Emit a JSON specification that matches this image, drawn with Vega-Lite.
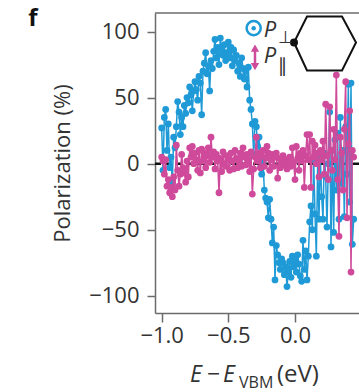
{
  "$schema": "https://vega.github.io/schema/vega-lite/v6.json",
  "width": 204,
  "height": 300,
  "autosize": "none",
  "padding": {"left": 155, "top": 13, "right": 0, "bottom": 79},
  "background": "white",
  "config": {
    "view": {"stroke": null},
    "font": "Open Sans",
    "axis": {"grid": false, "domainColor": "#6b6b6b", "domainWidth": 1.5, "tickColor": "#6b6b6b", "tickWidth": 1.5, "labelFont": "Open Sans", "labelFontSize": 22, "labelColor": "#333", "titleFont": "Open Sans", "titleFontSize": 22, "titleFontWeight": "normal", "titleColor": "#333"},
    "axisX": {"tickSize": 9, "labelPadding": 3},
    "axisY": {"tickSize": 8, "labelPadding": 8, "titlePadding": 14}
  },
  "datasets": {
    "one": [{}],
    "pol": [
      {"E":-1.00,"perp":27,"par":5},{"E":-0.99,"perp":-5,"par":2},{"E":-0.98,"perp":35,"par":-8},{"E":-0.97,"perp":41,"par":3},{"E":-0.96,"perp":10,"par":-17},
      {"E":-0.95,"perp":30,"par":-12},{"E":-0.94,"perp":-3,"par":-22},{"E":-0.93,"perp":5,"par":-18},{"E":-0.92,"perp":-14,"par":-25},{"E":-0.91,"perp":20,"par":-10},
      {"E":-0.90,"perp":12,"par":-20},{"E":-0.89,"perp":28,"par":14},{"E":-0.88,"perp":47,"par":-5},{"E":-0.87,"perp":39,"par":-17},{"E":-0.86,"perp":22,"par":-8},
      {"E":-0.85,"perp":35,"par":7},{"E":-0.84,"perp":28,"par":-3},{"E":-0.83,"perp":44,"par":-7},{"E":-0.82,"perp":38,"par":-14},{"E":-0.81,"perp":50,"par":2},
      {"E":-0.80,"perp":46,"par":-10},{"E":-0.79,"perp":58,"par":12},{"E":-0.78,"perp":52,"par":5},{"E":-0.77,"perp":40,"par":13},{"E":-0.76,"perp":55,"par":0},
      {"E":-0.75,"perp":62,"par":8},{"E":-0.74,"perp":56,"par":3},{"E":-0.73,"perp":48,"par":-5},{"E":-0.72,"perp":66,"par":10},{"E":-0.71,"perp":61,"par":-7},
      {"E":-0.70,"perp":37,"par":11},{"E":-0.69,"perp":70,"par":2},{"E":-0.68,"perp":76,"par":8},{"E":-0.67,"perp":84,"par":-3},{"E":-0.66,"perp":68,"par":6},
      {"E":-0.65,"perp":74,"par":12},{"E":-0.64,"perp":55,"par":1},{"E":-0.63,"perp":78,"par":20},{"E":-0.62,"perp":72,"par":5},{"E":-0.61,"perp":85,"par":9},
      {"E":-0.60,"perp":94,"par":-4},{"E":-0.59,"perp":80,"par":7},{"E":-0.58,"perp":88,"par":2},{"E":-0.57,"perp":75,"par":-22},{"E":-0.56,"perp":95,"par":4},
      {"E":-0.55,"perp":86,"par":-6},{"E":-0.54,"perp":82,"par":9},{"E":-0.53,"perp":90,"par":0},{"E":-0.52,"perp":78,"par":-2},{"E":-0.51,"perp":84,"par":6},
      {"E":-0.50,"perp":92,"par":3},{"E":-0.49,"perp":80,"par":-5},{"E":-0.48,"perp":88,"par":8},{"E":-0.47,"perp":74,"par":2},{"E":-0.46,"perp":86,"par":-4},
      {"E":-0.45,"perp":78,"par":10},{"E":-0.44,"perp":82,"par":4},{"E":-0.43,"perp":70,"par":-3},{"E":-0.42,"perp":76,"par":2},{"E":-0.41,"perp":66,"par":8},
      {"E":-0.40,"perp":80,"par":-2},{"E":-0.39,"perp":72,"par":12},{"E":-0.38,"perp":64,"par":5},{"E":-0.37,"perp":70,"par":-1},{"E":-0.36,"perp":58,"par":7},
      {"E":-0.35,"perp":73,"par":3},{"E":-0.34,"perp":48,"par":-6},{"E":-0.33,"perp":41,"par":9},{"E":-0.32,"perp":30,"par":-23},{"E":-0.31,"perp":7,"par":-4},
      {"E":-0.30,"perp":32,"par":5},{"E":-0.29,"perp":28,"par":20},{"E":-0.28,"perp":13,"par":2},{"E":-0.27,"perp":20,"par":8},{"E":-0.26,"perp":5,"par":-3},
      {"E":-0.25,"perp":-8,"par":6},{"E":-0.24,"perp":2,"par":10},{"E":-0.23,"perp":-20,"par":-2},{"E":-0.22,"perp":-26,"par":4},{"E":-0.21,"perp":-29,"par":13},
      {"E":-0.20,"perp":-41,"par":8},{"E":-0.19,"perp":-27,"par":-5},{"E":-0.18,"perp":-42,"par":3},{"E":-0.17,"perp":-60,"par":7},{"E":-0.16,"perp":-48,"par":-2},
      {"E":-0.15,"perp":-88,"par":5},{"E":-0.14,"perp":-62,"par":8},{"E":-0.13,"perp":-69,"par":-11},{"E":-0.12,"perp":-75,"par":4},{"E":-0.11,"perp":-80,"par":-3},
      {"E":-0.10,"perp":-72,"par":2},{"E":-0.09,"perp":-75,"par":6},{"E":-0.08,"perp":-84,"par":-1},{"E":-0.07,"perp":-78,"par":3},{"E":-0.06,"perp":-93,"par":-4},
      {"E":-0.05,"perp":-82,"par":2},{"E":-0.04,"perp":-74,"par":5},{"E":-0.03,"perp":-86,"par":-2},{"E":-0.02,"perp":-70,"par":12},{"E":-0.01,"perp":-78,"par":1},
      {"E":0.00,"perp":-72,"par":-12},{"E":0.01,"perp":-82,"par":13},{"E":0.02,"perp":-69,"par":4},{"E":0.03,"perp":-76,"par":-5},{"E":0.04,"perp":-85,"par":8},
      {"E":0.05,"perp":-89,"par":2},{"E":0.06,"perp":-58,"par":10},{"E":0.07,"perp":-80,"par":-18},{"E":0.08,"perp":-66,"par":6},{"E":0.09,"perp":-88,"par":22},
      {"E":0.10,"perp":-70,"par":3},{"E":0.11,"perp":-44,"par":22},{"E":0.12,"perp":-32,"par":-18},{"E":0.13,"perp":-50,"par":17},{"E":0.14,"perp":3,"par":5},
      {"E":0.15,"perp":-38,"par":14},{"E":0.16,"perp":-70,"par":0},{"E":0.17,"perp":2,"par":8},{"E":0.18,"perp":-42,"par":-10},{"E":0.19,"perp":5,"par":10},
      {"E":0.20,"perp":-25,"par":3},{"E":0.21,"perp":-42,"par":17},{"E":0.22,"perp":8,"par":-8},{"E":0.23,"perp":-10,"par":45},{"E":0.24,"perp":-48,"par":6},
      {"E":0.25,"perp":0,"par":-12},{"E":0.26,"perp":39,"par":43},{"E":0.27,"perp":-63,"par":10},{"E":0.28,"perp":10,"par":-5},{"E":0.29,"perp":-52,"par":26},
      {"E":0.30,"perp":18,"par":3},{"E":0.31,"perp":-20,"par":67},{"E":0.32,"perp":23,"par":-12},{"E":0.33,"perp":-42,"par":-55},{"E":0.34,"perp":35,"par":20},
      {"E":0.35,"perp":-15,"par":8},{"E":0.36,"perp":10,"par":-20},{"E":0.37,"perp":-40,"par":26},{"E":0.38,"perp":28,"par":62},{"E":0.39,"perp":-8,"par":-41},
      {"E":0.40,"perp":60,"par":15},{"E":0.41,"perp":-29,"par":40},{"E":0.42,"perp":61,"par":-82},{"E":0.43,"perp":-61,"par":10},{"E":0.44,"perp":-42,"par":5}
    ],
    "hex": [
      {"hx":-0.0075,"hy":91.7},{"hx":0.09,"hy":111.4},{"hx":0.3525,"hy":111.4},{"hx":0.4575,"hy":91.7},{"hx":0.3525,"hy":70.5},{"hx":0.09,"hy":70.5},{"hx":-0.0075,"hy":91.7}
    ]
  },
  "layer": [
    {
      "data": {"name": "one"},
      "mark": {"type": "rule", "color": "#111", "strokeWidth": 2.5, "strokeDash": [7, 4]},
      "encoding": {"y": {"datum": 0, "type": "quantitative", "scale": {"domain": [-113, 114]}}}
    },
    {
      "data": {"name": "one"},
      "mark": {"type": "rule", "color": "#6b6b6b", "strokeWidth": 1.5},
      "encoding": {"y": {"datum": 114, "type": "quantitative"}}
    },
    {
      "data": {"name": "pol"},
      "mark": {"type": "line", "color": "#1f9ad7", "strokeWidth": 1.5},
      "encoding": {
        "x": {"field": "E", "type": "quantitative", "scale": {"domain": [-1.05, 0.48], "nice": false, "zero": false}, "axis": {"values": [-1, -0.5, 0], "format": ".1f", "title": null}},
        "y": {"field": "perp", "type": "quantitative", "scale": {"domain": [-113, 114], "nice": false}, "axis": {"values": [-100, -50, 0, 50, 100], "title": "Polarization (%)"}}
      }
    },
    {
      "data": {"name": "pol"},
      "mark": {"type": "point", "filled": true, "opacity": 1, "color": "#1f9ad7", "size": 46},
      "encoding": {
        "x": {"field": "E", "type": "quantitative"},
        "y": {"field": "perp", "type": "quantitative"}
      }
    },
    {
      "data": {"name": "pol"},
      "mark": {"type": "line", "color": "#cf4a9a", "strokeWidth": 1.5},
      "encoding": {
        "x": {"field": "E", "type": "quantitative"},
        "y": {"field": "par", "type": "quantitative"}
      }
    },
    {
      "data": {"name": "pol"},
      "mark": {"type": "point", "filled": true, "opacity": 1, "color": "#cf4a9a", "size": 46},
      "encoding": {
        "x": {"field": "E", "type": "quantitative"},
        "y": {"field": "par", "type": "quantitative"}
      }
    },
    {
      "data": {"name": "hex"},
      "mark": {"type": "line", "color": "#111", "strokeWidth": 2},
      "encoding": {
        "x": {"field": "hx", "type": "quantitative"},
        "y": {"field": "hy", "type": "quantitative"},
        "order": {"value": null}
      }
    },
    {
      "data": {"name": "one"},
      "mark": {"type": "point", "filled": true, "opacity": 1, "color": "#111", "size": 64},
      "encoding": {"x": {"datum": -0.0075, "type": "quantitative"}, "y": {"datum": 91.7, "type": "quantitative"}}
    },
    {
      "data": {"name": "one"},
      "mark": {"type": "point", "filled": false, "opacity": 1, "color": "#1f9ad7", "strokeWidth": 2.5, "size": 200},
      "encoding": {"x": {"datum": -0.31, "type": "quantitative"}, "y": {"datum": 102.5, "type": "quantitative"}}
    },
    {
      "data": {"name": "one"},
      "mark": {"type": "point", "filled": true, "opacity": 1, "color": "#1f9ad7", "size": 20},
      "encoding": {"x": {"datum": -0.31, "type": "quantitative"}, "y": {"datum": 102.5, "type": "quantitative"}}
    },
    {
      "data": {"name": "one"},
      "mark": {"type": "text", "text": "P", "font": "Open Sans", "fontStyle": "italic", "fontSize": 22, "color": "#333", "align": "left", "baseline": "alphabetic"},
      "encoding": {"x": {"datum": -0.235, "type": "quantitative"}, "y": {"datum": 96, "type": "quantitative"}}
    },
    {
      "data": {"name": "one"},
      "mark": {"type": "text", "text": "⊥", "font": "DejaVu Sans", "fontSize": 17, "color": "#333", "align": "left", "baseline": "alphabetic"},
      "encoding": {"x": {"datum": -0.125, "type": "quantitative"}, "y": {"datum": 91, "type": "quantitative"}}
    },
    {
      "data": {"name": "one"},
      "mark": {"type": "rule", "color": "#cf4a9a", "strokeWidth": 2.5},
      "encoding": {"x": {"datum": -0.3, "type": "quantitative"}, "y": {"datum": 87, "type": "quantitative"}, "y2": {"datum": 74}}
    },
    {
      "data": {"name": "one"},
      "mark": {"type": "point", "shape": "triangle-up", "filled": true, "opacity": 1, "color": "#cf4a9a", "size": 70},
      "encoding": {"x": {"datum": -0.3, "type": "quantitative"}, "y": {"datum": 87.5, "type": "quantitative"}}
    },
    {
      "data": {"name": "one"},
      "mark": {"type": "point", "shape": "triangle-down", "filled": true, "opacity": 1, "color": "#cf4a9a", "size": 70},
      "encoding": {"x": {"datum": -0.3, "type": "quantitative"}, "y": {"datum": 73.5, "type": "quantitative"}}
    },
    {
      "data": {"name": "one"},
      "mark": {"type": "text", "text": "P", "font": "Open Sans", "fontStyle": "italic", "fontSize": 22, "color": "#333", "align": "left", "baseline": "alphabetic"},
      "encoding": {"x": {"datum": -0.235, "type": "quantitative"}, "y": {"datum": 76.5, "type": "quantitative"}}
    },
    {
      "data": {"name": "one"},
      "mark": {"type": "text", "text": "∥", "font": "DejaVu Sans", "fontSize": 19, "color": "#333", "align": "left", "baseline": "alphabetic"},
      "encoding": {"x": {"datum": -0.13, "type": "quantitative"}, "y": {"datum": 69.5, "type": "quantitative"}}
    },
    {
      "data": {"name": "one"},
      "mark": {"type": "text", "text": "f", "font": "Open Sans", "fontWeight": "bold", "fontSize": 24, "color": "#111", "align": "left", "baseline": "alphabetic"},
      "encoding": {"x": {"datum": -2.0, "type": "quantitative"}, "y": {"datum": 104.5, "type": "quantitative"}}
    },
    {
      "data": {"name": "one"},
      "mark": {"type": "text", "text": "E", "font": "Open Sans", "fontStyle": "italic", "fontSize": 23, "color": "#333", "align": "left", "baseline": "alphabetic"},
      "encoding": {"x": {"datum": -0.7875, "type": "quantitative"}, "y": {"datum": -165, "type": "quantitative"}}
    },
    {
      "data": {"name": "one"},
      "mark": {"type": "text", "text": "−", "font": "Open Sans", "fontSize": 23, "color": "#333", "align": "left", "baseline": "alphabetic"},
      "encoding": {"x": {"datum": -0.66, "type": "quantitative"}, "y": {"datum": -165, "type": "quantitative"}}
    },
    {
      "data": {"name": "one"},
      "mark": {"type": "text", "text": "E", "font": "Open Sans", "fontStyle": "italic", "fontSize": 23, "color": "#333", "align": "left", "baseline": "alphabetic"},
      "encoding": {"x": {"datum": -0.54, "type": "quantitative"}, "y": {"datum": -165, "type": "quantitative"}}
    },
    {
      "data": {"name": "one"},
      "mark": {"type": "text", "text": "VBM", "font": "Open Sans", "fontSize": 16, "color": "#333", "align": "left", "baseline": "alphabetic"},
      "encoding": {"x": {"datum": -0.42, "type": "quantitative"}, "y": {"datum": -170, "type": "quantitative"}}
    },
    {
      "data": {"name": "one"},
      "mark": {"type": "text", "text": "(eV)", "font": "Open Sans", "fontSize": 24, "color": "#333", "align": "left", "baseline": "alphabetic"},
      "encoding": {"x": {"datum": -0.135, "type": "quantitative"}, "y": {"datum": -165, "type": "quantitative"}}
    }
  ]
}
